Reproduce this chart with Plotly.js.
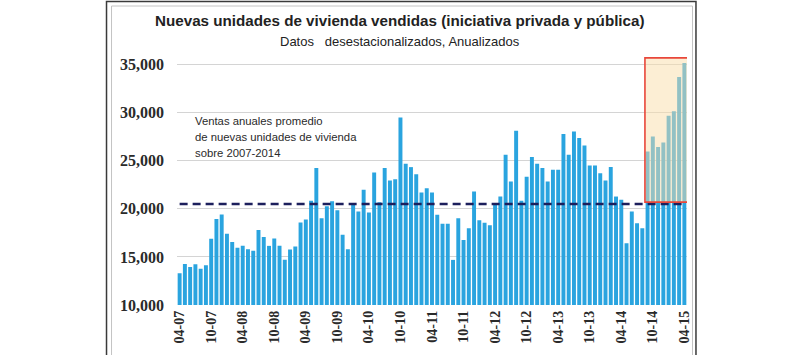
<!DOCTYPE html>
<html>
<head>
<meta charset="utf-8">
<script src="https://cdn.plot.ly/plotly-3.0.1.min.js"></script>
<style>html,body{margin:0;padding:0;background:#fff;}#chart{width:800px;height:355px;}</style>
</head>
<body>
<div id="chart"></div>
<script>
const months = [
 "04-07","05-07","06-07","07-07","08-07","09-07","10-07","11-07","12-07",
 "01-08","02-08","03-08","04-08","05-08","06-08","07-08","08-08","09-08","10-08","11-08","12-08",
 "01-09","02-09","03-09","04-09","05-09","06-09","07-09","08-09","09-09","10-09","11-09","12-09",
 "01-10","02-10","03-10","04-10","05-10","06-10","07-10","08-10","09-10","10-10","11-10","12-10",
 "01-11","02-11","03-11","04-11","05-11","06-11","07-11","08-11","09-11","10-11","11-11","12-11",
 "01-12","02-12","03-12","04-12","05-12","06-12","07-12","08-12","09-12","10-12","11-12","12-12",
 "01-13","02-13","03-13","04-13","05-13","06-13","07-13","08-13","09-13","10-13","11-13","12-13",
 "01-14","02-14","03-14","04-14","05-14","06-14","07-14","08-14","09-14","10-14","11-14","12-14",
 "01-15","02-15","03-15","04-15"
];
const ventas = [
 13300,14270,13950,14250,13780,14130,16900,18950,19400,
 17400,16550,15950,16150,15800,15630,17800,17080,16150,16920,16150,14700,
 15770,16080,18590,18880,20850,24240,19030,20280,20800,19860,17300,15800,
 20520,19720,21980,19620,23780,20690,24240,22950,23090,29510,24690,24340,
 23610,21700,22150,21700,19375,18440,18440,14690,19030,16770,17990,21800,
 18820,18560,18300,20520,21280,25625,22850,28125,20850,23330,25380,24690,
 24240,22850,24060,24060,27780,25625,28050,27360,26600,24510,24510,23700,
 22950,24340,21280,20940,16420,19720,18510,17990,25970,27530,26420,26910,
 29690,30140,33720,35170
];
const promedio = 20500;
const tickLabels = ["04-07","10-07","04-08","10-08","04-09","10-09","04-10","10-10","04-11","10-11","04-12","10-12","04-13","10-13","04-14","10-14","04-15"];
const highlightStart = "09-14";
const highlightEnd = "04-15";
const highlightLow = 20700;
const highlightHigh = 35700;
const titleText = "Nuevas unidades de vivienda vendidas (iniciativa privada y pública)";
const subtitleText = "Datos&nbsp;&nbsp;&nbsp;desestacionalizados, Anualizados";
const noteLines = ["Ventas anuales promedio", "de nuevas unidades de vivienda", "sobre 2007-2014"];

const iStart = months.indexOf(highlightStart);
const iEnd = months.indexOf(highlightEnd);

const traces = [
 {type:"bar", x: months, y: ventas, marker:{color:"#2aa4df"}, hoverinfo:"x+y"},
 {type:"scatter", mode:"lines", x:[months[0], months[months.length-1]], y:[promedio, promedio],
  line:{color:"#1c1f5c", width:2.6, dash:"8px,5px"}, hoverinfo:"skip"}
];

const serif = "Liberation Serif, Times New Roman, serif";
const narrow = "Liberation Sans Narrow, Arial Narrow, Liberation Sans, sans-serif";
const noteFont = {family:"Liberation Sans, Arial, sans-serif", size:11.3, color:"#2a2a2a"};

const layout = {
 width:800, height:355,
 margin:{l:177, r:113, t:55, b:50},
 paper_bgcolor:"#ffffff", plot_bgcolor:"#ffffff",
 showlegend:false, bargap:0.25,
 xaxis:{type:"category", range:[-0.5, months.length-0.5], tickvals: tickLabels, ticktext: tickLabels,
   tickangle:-90, ticks:"", showgrid:false, showline:false, zeroline:false,
   tickfont:{family:serif, size:14, color:"#2a2a2a", weight:"bold"}, ticklabelstandoff:2},
 yaxis:{range:[10000, 36000], tickvals:[10000,15000,20000,25000,30000,35000], tickformat:",",
   showgrid:true, gridcolor:"#d4d4d4", gridwidth:1, zeroline:false, showline:false, ticks:"",
   tickfont:{family:serif, size:16, color:"#2a2a2a", weight:"bold"}, ticklabelstandoff:12},
 shapes:[
  {type:"rect", xref:"paper", yref:"paper", x0:-0.1382, x1:1.0176, y0:-0.25, y1:1.214, line:{color:"#3a3a3a", width:1.5}, fillcolor:"rgba(0,0,0,0)", layer:"below"},
  {type:"rect", xref:"paper", yref:"paper", x0:-0.1284, x1:1.0108, y0:-0.25, y1:1.196, line:{color:"#c4c4c4", width:1}, fillcolor:"rgba(0,0,0,0)", layer:"below"},
  {type:"rect", xref:"x", yref:"y", x0:iStart-0.5, x1:iEnd+0.7, y0:highlightLow, y1:highlightHigh,
   fillcolor:"rgba(250,222,170,0.5)", line:{color:"#e8473a", width:1.6}, layer:"above"}
 ],
 annotations:[
  {xref:"paper", yref:"paper", x:0.437, y:1.14, text:"<b>"+titleText+"</b>", showarrow:false,
   font:{family:narrow, size:15.2, color:"#222"}, xanchor:"center", yanchor:"middle"},
  {xref:"paper", yref:"paper", x:0.437, y:1.052, text:subtitleText, showarrow:false,
   font:{family:narrow, size:13, color:"#222"}, xanchor:"center", yanchor:"middle"},
  {xref:"paper", yref:"paper", x:0.031, y:0.736, text:noteLines[0], showarrow:false,
   font:noteFont, xanchor:"left", yanchor:"middle"},
  {xref:"paper", yref:"paper", x:0.031, y:0.672, text:noteLines[1], showarrow:false,
   font:noteFont, xanchor:"left", yanchor:"middle"},
  {xref:"paper", yref:"paper", x:0.031, y:0.608, text:noteLines[2], showarrow:false,
   font:noteFont, xanchor:"left", yanchor:"middle"}
 ]
};

Plotly.newPlot("chart", traces, layout, {displayModeBar:false, staticPlot:true});
</script>
</body>
</html>
